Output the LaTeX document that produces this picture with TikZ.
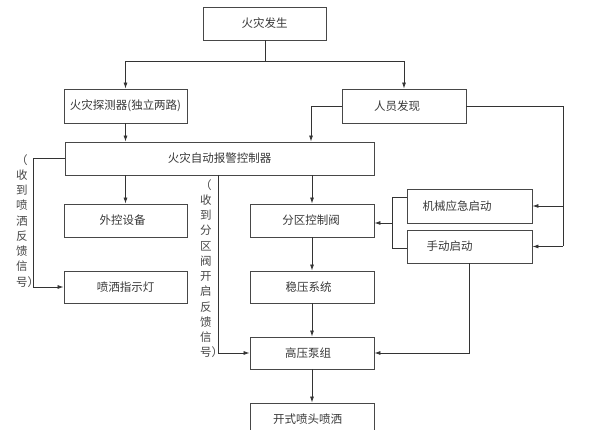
\documentclass[tikz,border=0pt]{standalone}
\usepackage{fontspec}
\setmainfont{Noto Sans CJK SC}
\usetikzlibrary{arrows.meta}
\begin{document}
\begin{tikzpicture}[x=1pt,y=-1pt,
  box/.style={draw=black!72, line width=0.9pt, rectangle, inner sep=0pt, text=black!78, font=\fontsize{11.5}{14}\selectfont},
  arr/.style={-{Latex[length=6pt,width=4pt]}, line width=0.8pt, draw=black!80},
  ln/.style={line width=0.8pt, draw=black!80},
  vtxt/.style={align=left, anchor=north west, inner sep=0pt, text=black!72, font=\fontsize{11.5}{15.25}\selectfont}]
\useasboundingbox (0,0) rectangle (595,430);
% boxes
\node[box, minimum width=123pt, minimum height=33pt] (fire)   at (264.5,23.5) {火灾发生};
\node[box, minimum width=123pt, minimum height=34pt] (det)    at (125.5,106)  {火灾探测器(独立两路)};
\node[box, minimum width=124pt, minimum height=34pt] (person) at (404,106)    {人员发现\hspace*{14pt}};
\node[box, minimum width=309pt, minimum height=33pt] (ctrl)   at (219.5,158.5) {火灾自动报警控制器};
\node[box, minimum width=123pt, minimum height=33pt] (outctl) at (125.5,220.5) {外控设备\hspace*{6pt}};
\node[box, minimum width=124pt, minimum height=33pt] (zone)   at (312,220.5)  {分区控制阀\hspace*{2pt}};
\node[box, minimum width=125pt, minimum height=34pt] (mech)   at (469.5,206)  {机械应急启动\hspace*{25pt}};
\node[box, minimum width=125pt, minimum height=33pt] (manual) at (469.5,246.5) {手动启动\hspace*{40pt}};
\node[box, minimum width=123pt, minimum height=32pt] (lamp)   at (125.5,287)  {喷洒指示灯};
\node[box, minimum width=124pt, minimum height=32pt] (stable) at (312,287)    {稳压系统\hspace*{7pt}};
\node[box, minimum width=124pt, minimum height=32pt] (pump)   at (312,353)    {高压泵组\hspace*{8pt}};
\node[box, minimum width=124pt, minimum height=33pt] (spray)  at (312,419.5)  {开式喷头喷洒\hspace*{9pt}};
% vertical labels
\node[vtxt] (fbLtxt) at (16,154) {（\\收\\到\\喷\\洒\\反\\馈\\信\\号）};
\node[vtxt] (fbMtxt) at (200,179) {（\\收\\到\\分\\区\\阀\\开\\启\\反\\馈\\信\\号）};
% junction coordinates
\coordinate (j1) at (265,61);
\coordinate (pl) at (311,107);
\coordinate (pr) at (563,107);
\coordinate (fbL) at (33,158);
\coordinate (fbM) at (218,175);
\coordinate (bt) at (392,197);
\coordinate (bb) at (392,248);
\coordinate (bm) at (392,223);
\coordinate (mb) at (469.5,353);
% connectors
\draw[ln] (fire.south -| j1) -- (j1);
\draw[arr] (j1) -| (det.north);
\draw[arr] (j1) -| (person.north);
\draw[arr] (det.south) -- (det.south |- ctrl.north);
\draw[arr] (person.west) -| (pl |- ctrl.north);
\draw[arr] (det.south |- ctrl.south) -- (outctl.north);
\draw[arr] (zone.north |- ctrl.south) -- (zone.north);
\draw[arr] (ctrl.west |- fbL) -- (fbL) |- (lamp.west);
\draw[arr] (fbM) |- (pump.west);
\draw[arr] (zone.south) -- (stable.north);
\draw[arr] (stable.south) -- (pump.north);
\draw[arr] (pump.south) -- (spray.north);
\draw[ln] (person.east) -| (pr |- manual.east);
\draw[arr] (pr |- manual.east) -- (manual.east);
\draw[arr] (pr |- mech.east) -- (mech.east);
\draw[ln] (mech.west |- bt) -- (bt) -- (bb) -- (manual.west |- bb);
\draw[arr] (bm) -- (bm -| zone.east);
\draw[arr] (manual.south) -- (mb) -- (mb -| pump.east);
\end{tikzpicture}
\end{document}
